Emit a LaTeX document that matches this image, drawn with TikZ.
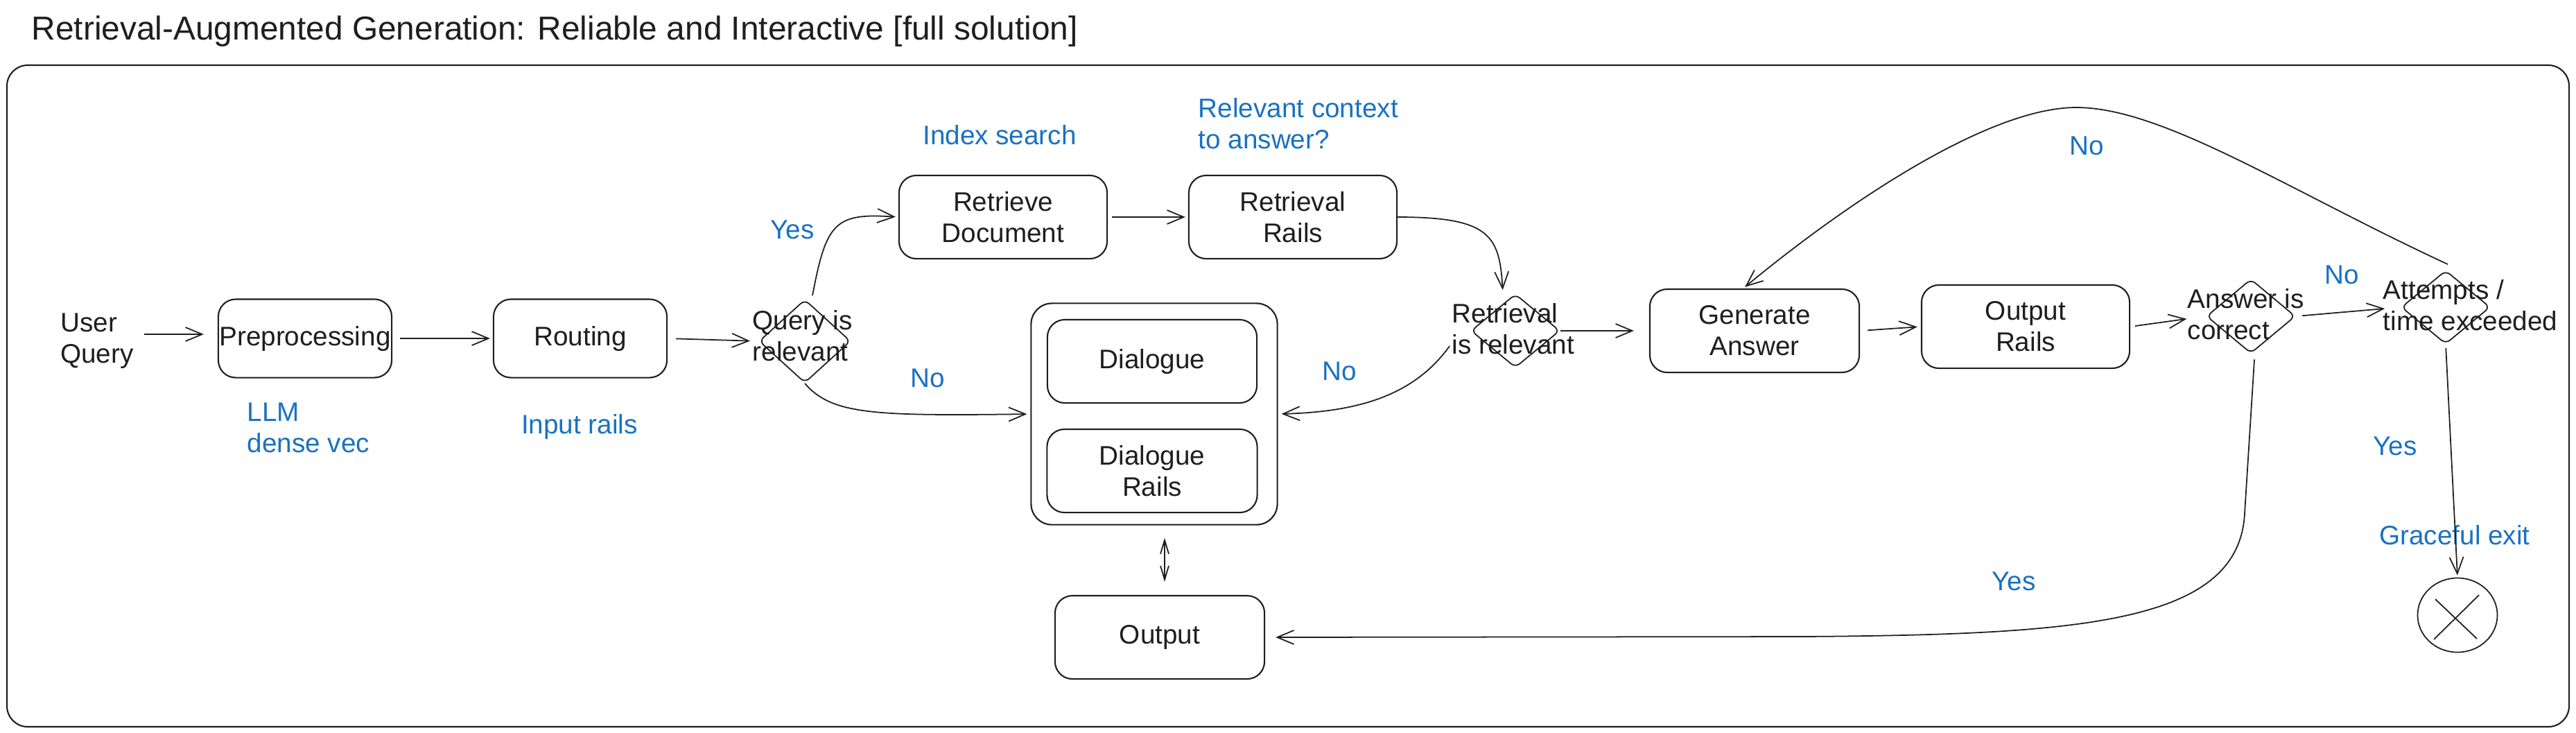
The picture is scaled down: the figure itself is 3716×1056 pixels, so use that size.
\documentclass[tikz,border=0pt]{standalone}
\usepackage{fontspec}
\setmainfont{Liberation Sans}
\usetikzlibrary{arrows.meta,shapes.geometric,calc}
\definecolor{ink}{HTML}{1E1E1E}
\definecolor{lblue}{HTML}{1971C2}
\begin{document}
\begin{tikzpicture}[x=0.01cm,y=-0.01cm,
  every node/.style={font=\fontsize{11}{12.8}\selectfont, text=ink},
  box/.style={draw=ink, line width=0.6pt, rounded corners=0.25cm, align=center, inner sep=0pt},
  dia/.style={draw=ink, line width=0.5pt, diamond, rounded corners=0.08cm, inner sep=0pt},
  txt/.style={inner sep=0pt, align=left},
  lbl/.style={inner sep=0pt, align=left, text=lblue},
  arr/.style={draw=ink, line width=0.5pt, -{Straight Barb[length=0.24cm,width=0.2cm]}},
  darr/.style={draw=ink, line width=0.5pt, {Straight Barb[length=0.2cm,width=0.12cm]}-{Straight Barb[length=0.2cm,width=0.12cm]}},
]
\useasboundingbox (0,0) rectangle (3716,1056);
% frame
\draw[ink, line width=0.6pt, rounded corners=0.3cm] (10,94) rectangle (3706,1048);
% title
\node[txt, anchor=west, font=\fontsize{13.6}{15.5}\selectfont] (title) at (45,45) {Retrieval-Augmented Generation: Reliable and Interactive [full solution]};

% main nodes
\node[txt] (userq) at (140,492) {User\\Query};
\node[box, minimum width=2.5cm, minimum height=1.13cm] (pre) at (440,488) {Preprocessing};
\node[box, minimum width=2.5cm, minimum height=1.13cm] (rout) at (837,488) {Routing};
\node[dia, minimum width=1.32cm, minimum height=1.2cm] (qrel) at (1161,492) {};
\node[txt, anchor=west] (qrelt) at (1085,484) {Query is\\relevant};
\node[box, minimum width=3.0cm, minimum height=1.2cm] (retd) at (1447,313) {Retrieve\\Document};
\node[box, minimum width=3.0cm, minimum height=1.2cm] (rrails) at (1865,313) {Retrieval\\Rails};
\node[dia, minimum width=1.28cm, minimum height=1.06cm] (rrel) at (2186,477) {};
\node[txt, anchor=west] (rrelt) at (2094,474) {Retrieval\\is relevant};
\node[box, minimum width=3.02cm, minimum height=1.2cm] (gen) at (2531,477) {Generate\\Answer};
\node[box, minimum width=3.0cm, minimum height=1.2cm] (orails) at (2922,471) {Output\\Rails};
\node[dia, minimum width=1.28cm, minimum height=1.07cm] (arel) at (3247,456) {};
\node[txt, anchor=west] (arelt) at (3155,453) {Answer is\\correct};
\node[dia, minimum width=1.28cm, minimum height=1.06cm] (att) at (3528,443) {};
\node[txt, anchor=west] (attt) at (3437,440) {Attempts /\\time exceeded};
\node[box, minimum width=3.55cm, minimum height=3.19cm, rounded corners=0.3cm] (cont) at (1665,597) {};
\node[box, minimum width=3.02cm, minimum height=1.2cm] (dlg) at (1662,521) {Dialogue};
\node[box, minimum width=3.03cm, minimum height=1.2cm] (dlgr) at (1662,679) {Dialogue\\Rails};
\node[box, minimum width=3.02cm, minimum height=1.2cm] (out) at (1673,919) {Output};
\node[draw=ink, line width=0.5pt, ellipse, minimum width=1.15cm, minimum height=1.07cm, inner sep=0pt] (endc) at (3545,887) {};
\draw[ink, line width=0.5pt] ($(endc.center)+(-32,-23)$) -- ($(endc.center)+(28,34)$);
\draw[ink, line width=0.5pt] ($(endc.center)+(31,-29)$) -- ($(endc.center)+(-34,35)$);

% blue labels
\node[lbl, anchor=west] (llm) at (356,617) {LLM\\dense vec};
\node[lbl] (inrails) at (836,615) {Input rails};
\node[lbl] (yes1) at (1143,331) {Yes};
\node[lbl] (no1) at (1338,545) {No};
\node[lbl] (idx) at (1442,195) {Index search};
\node[lbl, anchor=west] (relctx) at (1728,178) {Relevant context\\to answer?};
\node[lbl] (no2) at (1932,535) {No};
\node[lbl] (no3) at (3010,210) {No};
\node[lbl] (no4) at (3378,396) {No};
\node[lbl] (yes2) at (3455,643) {Yes};
\node[lbl] (grace) at (3541,772) {Graceful exit};
\node[lbl] (yes3) at (2905,838) {Yes};

% connectors
\draw[arr, shorten <=0.15cm, shorten >=0.2cm] (userq.east |- 0,482) -- (pre.west |- 0,482);
\draw[arr, shorten <=0.11cm, shorten >=0.04cm] (pre.east) -- (rout.west);
\draw[arr, shorten <=0.12cm, shorten >=0.12cm] (rout.east) -- (qrel.west);
\draw[arr, shorten >=0.04cm] ($(qrel.north)+(11,-5)$) .. controls (1192,320) and (1205,307) .. (retd.west);
\draw[arr, shorten <=0.06cm, shorten >=0.04cm] (retd.east) -- (rrails.west);
\draw[arr, shorten >=0.05cm] (rrails.east) .. controls (2150,313) and (2163,340) .. ($(rrel.north)+(-18,0)$);
\draw[arr, shorten >=0.22cm] (rrel.east) -- (gen.west);
\draw[arr, shorten <=0.11cm, shorten >=0.05cm] (gen.east) -- (orails.west);
\draw[arr, shorten <=0.07cm, shorten >=0.28cm] (orails.east) -- (arel.west);
\draw[arr, shorten <=0.09cm, shorten >=0.23cm] (arel.east) -- (att.west);
\draw[arr] ($(att.north)+(3,-8)$) .. controls (3300,274) and (3120,155) .. (2995,155)
   .. controls (2870,155) and (2667,290) .. ($(gen.north)+(-14,-2)$);
\draw[arr, shorten >=0.15cm] ($(arel.south)+(5,8)$) -- (3238,740) .. controls (3230,900) and (3000,915) .. (2600,918) -- (out.east);
\draw[arr, shorten <=0.05cm, shorten >=0.03cm] (att.south) -- (endc.north);
\draw[arr, shorten >=0.05cm] (qrel.south) .. controls (1200,598) and (1260,600) .. (cont.west);
\draw[arr, shorten >=0.05cm] ($(rrel.west)+(-30,22)$) .. controls (2040,570) and (1960,594) .. (cont.east);
\draw[darr] ($(cont.south)+(15,18)$) -- ($(out.north)+(7,-19)$);
\end{tikzpicture}
\end{document}
